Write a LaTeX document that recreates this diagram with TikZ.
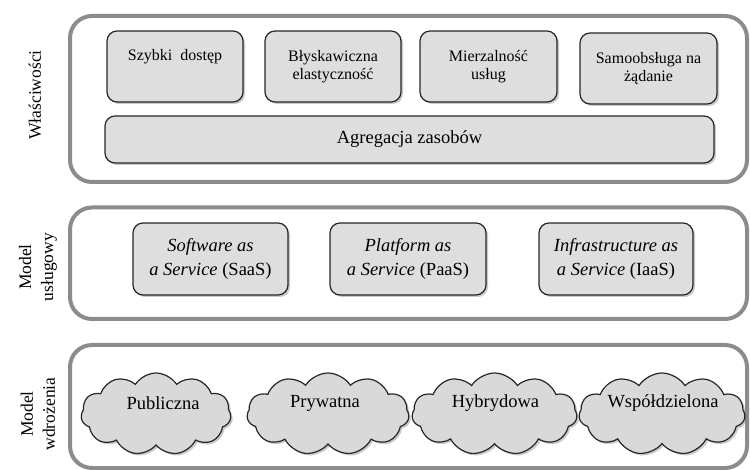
\documentclass[tikz,border=0pt]{standalone}
\usepackage{fontspec}
\setmainfont{Liberation Serif}
\usetikzlibrary{shapes.symbols,shadows}

\begin{document}
\begin{tikzpicture}[x=1pt,y=-1pt,
  panel/.style={draw=black!45, line width=4pt, rounded corners=22pt, inner sep=0pt},
  boxshadow/.style={drop shadow={shadow xshift=2pt, shadow yshift=-2pt, opacity=0.35, fill=black!60}},
  featbox/.style={draw=black!85, line width=1.2pt, fill=black!13, rounded corners=10pt,
    boxshadow, align=center, inner sep=0pt, font=\fontsize{16}{18.5}\selectfont},
  svcbox/.style={featbox, font=\fontsize{18.5}{23.5}\selectfont},
  cloudy/.style={cloud, cloud puffs=11, cloud puff arc=115, aspect=2, draw=black!85,
    line width=1.2pt, fill=black!15, minimum height=82, inner sep=0pt, boxshadow},
  cloudtext/.style={font=\fontsize{18.5}{22}\selectfont, inner sep=0pt},
  sidelabel/.style={rotate=90, align=center, inner sep=0pt, font=\fontsize{17.5}{22}\selectfont},
]
\useasboundingbox (0,0) rectangle (750,470);

% three layer frames
\node[panel, minimum width=677, minimum height=166] (props) at (408.5,99) {};
\node[panel, minimum width=677, minimum height=111.5] (service) at (408.5,263.25) {};
\node[panel, minimum width=677, minimum height=123] (deploy) at (408.5,406.5) {};

% layer titles
\node[sidelabel] (propsLabel) at (35,95) {Właściwości};
\node[sidelabel] (serviceLabel) at (38,267) {Model\\usługowy};
\node[sidelabel] (deployLabel) at (38,414) {Model\\wdrożenia};

% characteristics
\node[featbox, minimum width=136, minimum height=71] (fast) at (175,66.5) {Szybki\ \ dostęp\\\strut};
\node[featbox, minimum width=136, minimum height=71] (elastic) at (333,66.5) {Błyskawiczna\\elastyczność};
\node[featbox, minimum width=137, minimum height=71] (measured) at (488.5,66.5) {Mierzalność\\usług};
\node[featbox, minimum width=137, minimum height=71] (selfsvc) at (648.5,68.5) {Samoobsługa na\\żądanie};
\node[featbox, minimum width=609, minimum height=47, font=\fontsize{18.5}{22}\selectfont] (pool) at (409.5,139.5) {Agregacja zasobów};

% service models
\node[svcbox, minimum width=155, minimum height=72] (saas) at (210.5,259) {\textit{Software as}\\\textit{a Service} (SaaS)};
\node[svcbox, minimum width=156, minimum height=72] (paas) at (408,259) {\textit{Platform as}\\\textit{a Service} (PaaS)};
\node[svcbox, minimum width=154, minimum height=72] (iaas) at (616,259) {\textit{Infrastructure as}\\\textit{a Service} (IaaS)};

% deployment models
\node[cloudy, minimum width=150] (public) at (156,414) {};
\node[cloudy, minimum width=162] (private) at (328,414) {};
\node[cloudy, minimum width=165] (hybrid) at (494.5,414) {};
\node[cloudy, minimum width=166] (community) at (662,414) {};
\node[cloudtext] (publicText) at (163,403) {Publiczna};
\node[cloudtext] (privateText) at (325,403) {Prywatna};
\node[cloudtext] (hybridText) at (495.5,403) {Hybrydowa};
\node[cloudtext] (communityText) at (663,403) {Współdzielona};
\end{tikzpicture}
\end{document}
